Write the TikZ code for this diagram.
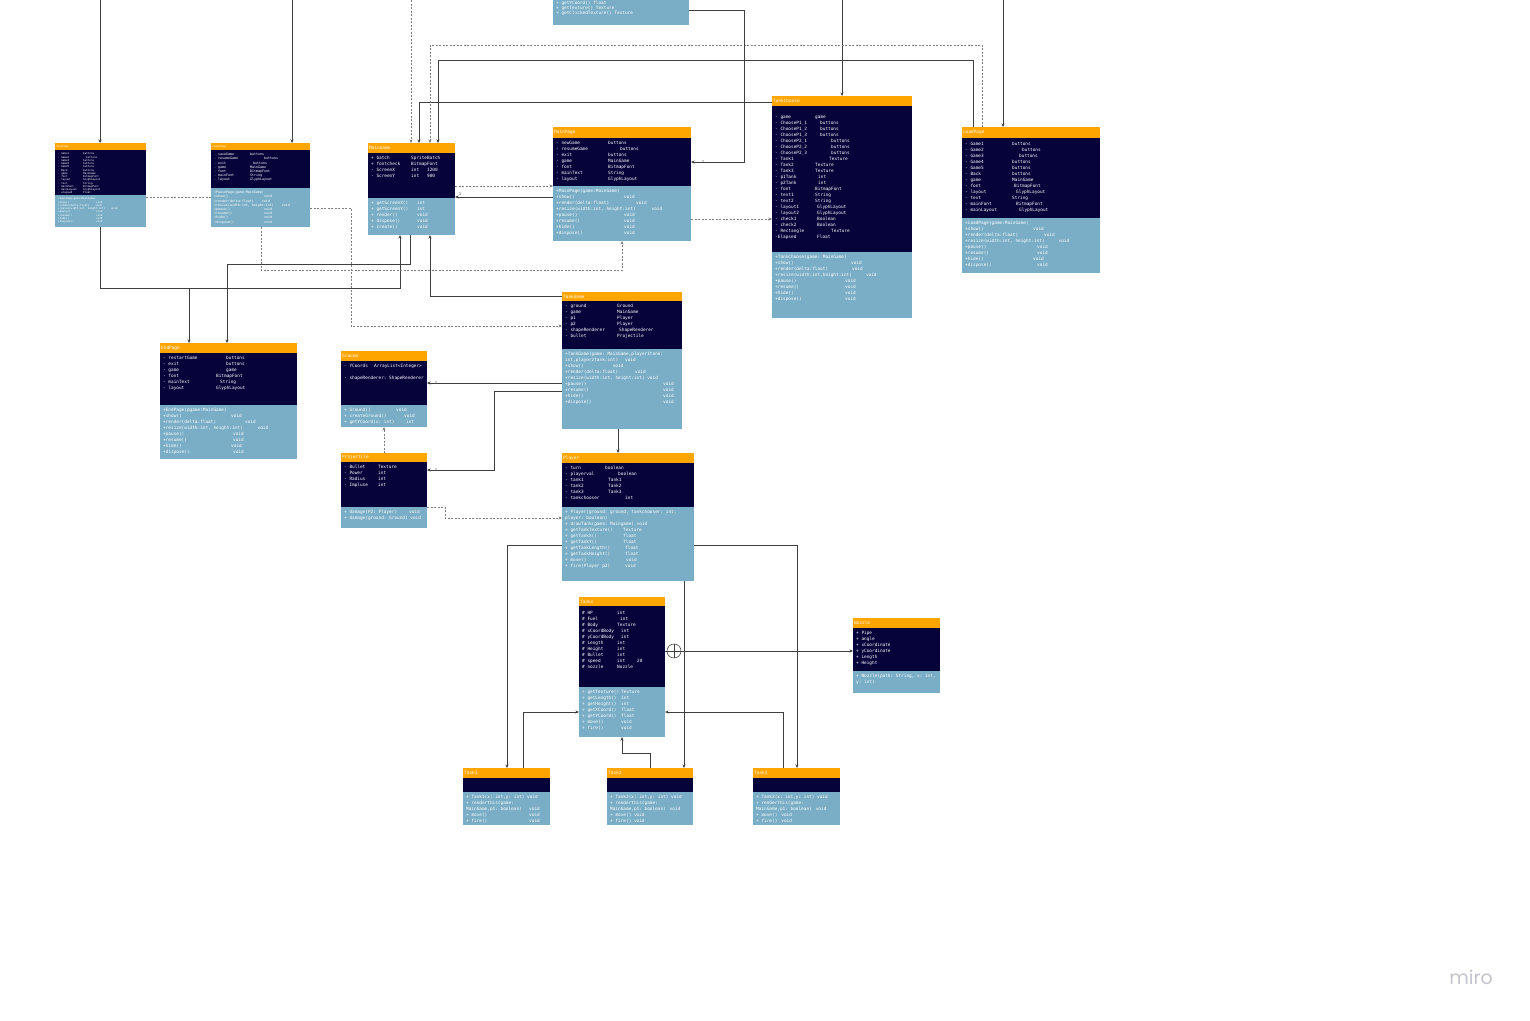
\documentclass[tikz,border=0pt]{standalone}
\usepackage{fontspec}
\setmonofont{DejaVu Sans Mono}
\newfontfamily\logofont{Poppins}
\usetikzlibrary{arrows.meta}

% colours
\definecolor{hdrorange}{HTML}{FFA500}
\definecolor{attrnavy}{HTML}{06033B}
\definecolor{methblue}{HTML}{7AAEC6}
\definecolor{linegray}{HTML}{3F3F3F}
\definecolor{dashgray}{HTML}{7E7E7E}
\definecolor{logogray}{HTML}{C4C4CC}

\newcommand{\umlfont}{\ttfamily\fontsize{4.4}{6}\selectfont}
\newcommand{\pausefont}{\ttfamily\fontsize{3.3}{4.2}\selectfont}
\newcommand{\savefont}{\ttfamily\fontsize{2.6}{3.25}\selectfont}

\newcommand{\cols}[2]{\begin{tabular}{@{}p{#1}@{}l@{}}#2\end{tabular}}
\newcommand{\wide}[1]{\multicolumn{2}{@{}l@{}}{#1}}

% id, x, y, width, header h, attribute h, method h, title
\newcommand{\umlclass}[8]{%
  \fill[hdrorange] (#2,#3) rectangle ++(#4,#5);
  \fill[attrnavy] (#2,{#3+#5}) rectangle ++(#4,#6);
  \fill[methblue] (#2,{#3+#5+#6}) rectangle ++(#4,#7);
  \node[classbox, minimum width=#4, minimum height={#5+#6+#7}] (#1) at (#2,#3) {};
  \node[ttl] (#1-t) at ({#2+1},{#3+#5/2}) {#8};
  \coordinate (#1-a) at ({#2+3},{#3+#5+2.5});
  \coordinate (#1-m) at ({#2+3},{#3+#5+#6+2.5});
}

\tikzset{
  classbox/.style={anchor=north west, inner sep=0pt, outer sep=0pt},
  ttl/.style={anchor=west, inner sep=0pt, text=white, font=\umlfont},
  body/.style={anchor=north west, inner sep=0pt, text=white, font=\umlfont, align=left},
  mult/.style={inner sep=0pt, text=linegray, font=\ttfamily\fontsize{4}{4}\selectfont},
  assoc/.style={draw=linegray, line width=0.55pt, -{Stealth[length=3.5pt,width=3pt]}},
  dep/.style={assoc, draw=dashgray, dash pattern=on 2pt off 1.5pt},
  plainln/.style={draw=linegray, line width=0.55pt},
}

\begin{document}
\begin{tikzpicture}[x=1pt,y=-1pt]
    \path[use as bounding box] (0,0) rectangle (1530,1020);
    \clip (0,0) rectangle (1530,1020);
    \fill[white] (0,0) rectangle (1530,1020);

    % Classes
    \umlclass{button}{553}{-12}{136}{0}{0}{37}{}
    \umlclass{savep}{55}{143}{91}{7}{45}{32}{\savefont SavePage}
    \umlclass{pausep}{211}{143}{99}{7}{38}{39}{\savefont PausePage}
    \umlclass{maingame}{368}{143}{87}{10}{45}{37}{MainGame}
    \umlclass{mainpage}{553}{127}{138}{11}{48}{55}{MainPage}
    \umlclass{tankchoose}{772}{96}{140}{10}{146}{66}{TankChoose}
    \umlclass{loadpage}{962}{127}{138}{11}{80}{55}{LoadPage}
    \umlclass{endpage}{160}{343}{137}{10}{52}{54}{EndPage}
    \umlclass{tankgame}{562}{292}{120}{9}{48}{80}{TankGame}
    \umlclass{ground}{341}{351}{86}{10}{44}{22}{Ground}
    \umlclass{projectile}{341}{453}{86}{9}{45}{21}{Projectile}
    \umlclass{player}{562}{453}{132}{10}{44}{74}{Player}
    \umlclass{tanks}{579}{597}{86}{9}{81}{50}{Tanks}
    \umlclass{nozzle}{853}{618}{87}{10}{43}{22}{Nozzle}
    \umlclass{tank1}{463}{768}{87}{10}{14}{33}{Tank1}
    \umlclass{tank2}{607}{768}{86}{10}{14}{33}{Tank2}
    \umlclass{tank3}{753}{768}{87}{10}{14}{33}{Tank3}

    % Members
    \node[body, font=\ttfamily\fontsize{4.4}{5}\selectfont] (button-mt) at (556,0.7) {+ getYCoord() float\\+ getTexture() Texture\\+ getClickedTexture() Texture};

    \node[body, font=\savefont] (savep-at) at (savep-a) {\cols{25pt}{- Game1 & buttons\\- Game2 & \hspace{3pt}buttons\\- Game3 & buttons\\- Game4 & buttons\\- Game5 & buttons\\- Back & buttons\\- game & MainGame\\- font & BitmapFont\\- layout & GlyphLayout\\- text & String\\- mainFont & BitmapFont\\- mainLayout & GlyphLayout\\- elapsed & Float}};
    \node[body, font=\savefont] (savep-mt) at (savep-m) {\cols{38pt}{\wide{+SavePage(game:MainGame)}\\+show() & void\\\wide{+render(delta:float)\hspace{6pt}void}\\\wide{+resize(width:int, height:int)\hspace{6pt}void}\\+pause() & void\\+resume() & void\\+hide() & void\\+dispose() & void}};

    \node[body, font=\pausefont] (pausep-at) at (pausep-a) {\cols{36pt}{- saveGame & buttons\\- resumeGame & \hspace{14pt}buttons\\- exit & \hspace{3pt}buttons\\- game & MainGame\\- font & BitmapFont\\- mainFont & String\\- layout & GlyphLayout}};
    \node[body, font=\pausefont] (pausep-mt) at (pausep-m) {\cols{50pt}{\wide{+PausePage(game:MainGame)}\\+show() & void\\\wide{+render(delta:float)\hspace{8pt}void}\\\wide{+resize(width:int, height:int)\hspace{8pt}void}\\+pause() & void\\+resume() & void\\+hide() & void\\+dispose() & void}};

    \node[body] (maingame-at) at (maingame-a) {\cols{40pt}{+ batch & SpriteBatch\\+ fontcheck & BitmapFont\\- ScreenX & int\hspace{8pt}1200\\- ScreenY & int\hspace{8pt}900}};
    \node[body] (maingame-mt) at (maingame-m) {\cols{46pt}{+ getScreenX() & int\\+ getScreenY() & int\\+ render() & void\\+ dispose() & void\\+ create() & void}};

    \node[body] (mainpage-at) at (mainpage-a) {\cols{52pt}{- newGame & buttons\\- resumeGame & \hspace{12pt}buttons\\- exit & buttons\\- game & MainGame\\- font & BitmapFont\\- mainText & String\\- layout & GlyphLayout}};
    \node[body] (mainpage-mt) at (mainpage-m) {\cols{68pt}{\wide{+MainPage(game:MainGame)}\\+show() & void\\\wide{+render(delta:float)\hspace{27pt}void}\\\wide{+resize(width:int, height:int)\hspace{16pt}void}\\+pause() & void\\+resume() & void\\+hide() & void\\+dispose() & void}};

    \node[body] (tankchoose-at) at ([yshift=-6pt]tankchoose-a) {\cols{40pt}{- game & game\\- ChooseP1\_1 & \hspace{5pt}buttons\\- ChooseP1\_2 & \hspace{5pt}buttons\\- ChooseP1\_3 & \hspace{5pt}buttons\\- ChooseP2\_1 & \hspace{16pt}buttons\\- ChooseP2\_2 & \hspace{16pt}buttons\\- ChooseP2\_3 & \hspace{16pt}buttons\\- Tank1 & \hspace{14pt}Texture\\- Tank2 & Texture\\- Tank3 & Texture\\- p1Tank & \hspace{3pt}int\\- p2Tank & \hspace{3pt}int\\- font & BitmapFont\\- text1 & String\\- text2 & String\\- layout1 & \hspace{2pt}GlyphLayout\\- layout2 & \hspace{2pt}GlyphLayout\\- check1 & \hspace{2pt}Boolean\\- check2 & \hspace{2pt}Boolean\\- Rectangle & \hspace{16pt}Texture\\-Elapsed & \hspace{2pt}Float}};
    \node[body] (tankchoose-mt) at (tankchoose-m) {\cols{70pt}{\wide{+TankChoose(game: MainGame)}\\+show() & \hspace{6pt}void\\\wide{+render(delta:float)\hspace{24pt}void}\\\wide{+resize(width:int,height:int)\hspace{14pt}void}\\+pause() & void\\+resume() & void\\+hide() & void\\+dispose() & void}};

    \node[body] (loadpage-at) at ([yshift=-1pt]loadpage-a) {\cols{47pt}{- Game1 & buttons\\- Game2 & \hspace{10pt}buttons\\- Game3 & \hspace{7pt}buttons\\- Game4 & buttons\\- Game5 & buttons\\- Back & buttons\\- game & MainGame\\- font & \hspace{2pt}BitmapFont\\- layout & \hspace{4pt}GlyphLayout\\- text & String\\- mainFont & \hspace{4pt}BitmapFont\\- mainLayout & \hspace{7pt}GlyphLayout}};
    \node[body] (loadpage-mt) at (loadpage-m) {\cols{68pt}{\wide{+LoadPage(game:MainGame)}\\+show() & void\\\wide{+render(delta:float)\hspace{26pt}void}\\\wide{+resize(width:int, height:int)\hspace{14pt}void}\\+pause() & \hspace{4pt}void\\+resume() & \hspace{4pt}void\\+hide() & void\\+dispose() & \hspace{4pt}void}};

    \node[body] (endpage-at) at (endpage-a) {\cols{53pt}{- restartGame & \hspace{10pt}buttons\\- exit & \hspace{10pt}buttons\\- game & \hspace{10pt}game\\- font & BitmapFont\\- mainText & \hspace{4pt}String\\- layout & GlyphLayout}};
    \node[body] (endpage-mt) at (endpage-m) {\cols{68pt}{\wide{+EndPage(pgame:MainGame)}\\+show() & void\\\wide{+render(delta:float)\hspace{29pt}void}\\\wide{+resize(width:int, height:int)\hspace{15pt}void}\\+pause() & \hspace{2pt}void\\+resume() & \hspace{2pt}void\\+hide() & void\\+dispose() & \hspace{2pt}void}};

    \node[body] (tankgame-at) at (tankgame-a) {\cols{52pt}{- ground & Ground\\- game & MainGame\\- p1 & Player\\- p2 & Player\\- shapeRenderer & \hspace{2pt}ShapeRenderer\\- bullet & Projectile}};
    \node[body] (tankgame-mt) at (tankgame-m) {\cols{98pt}{\wide{+TankGame(game: MainGame,player1tank:}\\\wide{int,player2tank:int)\hspace{7pt}void}\\\wide{+show()\hspace{29pt}void}\\\wide{+render(delta:float)\hspace{17pt}void}\\\wide{+resize(width:int, height:int) void}\\+pause() & void\\+resume() & void\\+hide() & void\\+dispose() & void}};

    \node[body] (ground-at) at (ground-a) {\cols{30pt}{- YCoords & ArrayList<Integer>\\ & \\\wide{- shapeRenderer: ShapeRenderer}}};
    \node[body] (ground-mt) at (ground-m) {\cols{52pt}{+ Ground() & void\\+ createGround() & \hspace{8pt}void\\+ getYCoord(x: int) & \hspace{10pt}int}};

    \node[body] (projectile-at) at (projectile-a) {\cols{34pt}{- Bullet & Texture\\- Power & int\\- Radius & int\\- Impluse & int}};
    \node[body] (projectile-mt) at (projectile-m) {\cols{34pt}{\wide{+ damage(P2: Player)\hspace{12pt}void}\\\wide{+ damage(ground: Ground) void}}};

    \node[body] (player-at) at (player-a) {\cols{40pt}{- turn & boolean\\- playerval & \hspace{13pt}boolean\\- tank1 & \hspace{3pt}Tank1\\- tank2 & \hspace{3pt}Tank2\\- tank3 & \hspace{3pt}Tank3\\- tankchooser & \hspace{20pt}int}};
    \node[body] (player-mt) at (player-m) {\cols{58pt}{\wide{+ Player(ground: ground, tankchooser: int,}\\\wide{player: boolean)}\\\wide{+ drawTank(game: Maingame) void}\\+ getTankTexture() & Texture\\+ getTankX() & float\\+ getTankY() & float\\+ getTankLength() & \hspace{2pt}float\\+ getTankHeight() & \hspace{2pt}float\\+ move() & \hspace{3pt}void\\+ fire(Player p2) & \hspace{2pt}void}};

    \node[body] (tanks-at) at ([yshift=-2pt]tanks-a) {\cols{35pt}{\# HP & int\\\# Fuel & \hspace{3pt}int\\\# Body & Texture\\\# xCoordBody & \hspace{4pt}int\\\# yCoordBody & \hspace{4pt}int\\\# Length & int\\\# Height & int\\\# Bullet & int\\\# speed & int\hspace{12pt}20\\\# nozzle & Nozzle}};
    \node[body] (tanks-mt) at (tanks-m) {\cols{39pt}{+ getTexture() & Texture\\+ getLength() & int\\+ getHeight() & int\\+ getXCoord() & float\\+ getYCoord() & float\\+ move() & void\\+ fire() & void}};

    \node[body] (nozzle-at) at (nozzle-a) {+ Pipe\\+ angle\\+ xCoordinate\\+ yCoordinate\\+ Length\\+ Height};
    \node[body] (nozzle-mt) at (nozzle-m) {+ Nozzle(path: String, x: int,\\y: int)};

    \node[body] (tank1-mt) at (tank1-m) {\cols{63pt}{\wide{+ Tank1(x: int,y: int) void}\\\wide{+ renderthis(game:}\\MainGame,p1: boolean) & void\\+ move() & void\\+ fire() & void}};
    \node[body] (tank2-mt) at (tank2-m) {+ Tank2(x: int,y: int) void\\+ renderthis(game:\\MainGame,p1: boolean)\hspace{4pt}void\\+ move() void\\+ fire() void};
    \node[body] (tank3-mt) at (tank3-m) {+ Tank3(x: int,y: int) void\\+ renderthis(game:\\MainGame,p1: boolean)\hspace{4pt}void\\+ move()\hspace{4pt}void\\+ fire()\hspace{4pt}void};

    % Incoming lines from the top edge
    \coordinate (topsave) at (100,0);
    \coordinate (toppause) at (292,0);
    \coordinate (topmain) at (411,0);
    \coordinate (topchoose) at (842,0);
    \coordinate (topload) at (1003,0);
    \draw[assoc] (topsave) -- (topsave |- savep.north);
    \draw[assoc] (toppause) -- (toppause |- pausep.north);
    \draw[dep] (topmain) -- (topmain |- maingame.north);
    \draw[assoc] (topchoose) -- (topchoose |- tankchoose.north);
    \draw[assoc] (topload) -- (topload |- loadpage.north);

    % Connectors
    \draw[assoc] ([yshift=-6pt]tankchoose.north west) -| ([xshift=51pt]maingame.north west);
    \draw[dep] ([xshift=20pt]loadpage.north west) -- ++(0,-82) -| ([xshift=62pt]maingame.north west);
    \draw[assoc] ([xshift=11pt]loadpage.north west) -- ++(0,-67) -| ([xshift=70pt]maingame.north west);
    \draw[assoc] ([yshift=-22pt]button.north east) -- ++(55,0) |- ([yshift=-35pt]mainpage.north east);
    \draw[dep] ([yshift=-43pt]maingame.north east) -- ([yshift=-59pt]mainpage.north west);
    \draw[assoc] ([yshift=-70pt]mainpage.north west) -- ([yshift=-54pt]maingame.north east);
    \draw[dep] ([yshift=-92pt]mainpage.north east) -- ([yshift=-123pt]tankchoose.north west);
    \draw[dep, -] ([yshift=-54pt]savep.north east) -- ([yshift=-54pt]pausep.north west);
    \draw[assoc] ([xshift=45pt]savep.south west) -- ++(0,61) -| ([xshift=32pt]maingame.south west);
    \coordinate (endjoin) at (189,288);
    \draw[assoc] (endjoin) -- (endjoin |- endpage.north);
    \draw[assoc] ([xshift=42pt]maingame.south west) -- ++(0,29) -| ([xshift=67pt]endpage.north west);
    \draw[assoc] ([yshift=-4pt]tankgame.north west) -| ([xshift=62pt]maingame.south west);
    \draw[dep] ([xshift=50pt]pausep.south west) -- ++(0,43) -| ([xshift=69pt]mainpage.south west);
    \draw[dep] ([yshift=-65pt]pausep.north east) -- ++(41,0) |- ([yshift=-34pt]tankgame.north west);
    \draw[assoc] ([yshift=-91pt]tankgame.north west) -- ([yshift=-32pt]ground.north east);
    \draw[assoc] ([yshift=-99pt]tankgame.north west) -- ++(-68,0) |- ([yshift=-17pt]projectile.north east);
    \draw[assoc] ([xshift=56pt]tankgame.south west) -- ([xshift=56pt]player.north west);
    \draw[dep] ([xshift=43pt]projectile.north west) -- ([xshift=43pt]ground.south west);
    \draw[dep] ([yshift=-54pt]projectile.north east) -- ++(18,0) |- ([yshift=-65pt]player.north west);
    \draw[assoc] ([yshift=-92pt]player.north west) -| ([xshift=44pt]tank1.north west);
    \draw[assoc] ([xshift=122pt]player.south west) -- ([xshift=77pt]tank2.north west);
    \draw[assoc] ([yshift=-92pt]player.north east) -| ([xshift=44pt]tank3.north west);

    % Nested class mark
    \node[circle, draw=linegray, line width=0.55pt, minimum size=14pt, inner sep=0pt] (nestmark) at ([xshift=9pt,yshift=-54pt]tanks.north east) {};
    \draw[plainln] (nestmark.north) -- (nestmark.south);
    \draw[plainln] (nestmark.west) -- (nestmark.east);
    \draw[plainln] ([yshift=-54pt]tanks.north east) -- (nestmark.west);
    \draw[assoc] (nestmark.east) -- ([yshift=-33pt]nozzle.north west);

    \draw[assoc] ([xshift=60pt]tank1.north west) |- ([yshift=-115pt]tanks.north west);
    \draw[assoc] ([xshift=43pt]tank2.north west) -- ++(0,-15) -| ([xshift=43pt]tanks.south west);
    \draw[assoc] ([xshift=30pt]tank3.north west) |- ([yshift=-115pt]tanks.north east);

    % Multiplicities
    \node[mult] (m1) at ([xshift=5pt,yshift=-51pt]maingame.north east) {1};
    \node[mult] (m2) at ([xshift=12pt,yshift=-35pt]mainpage.north east) {1};
    \node[mult] (m3) at ([xshift=9pt,yshift=-32pt]ground.north east) {1};
    \node[mult] (m4) at ([xshift=9pt,yshift=-17pt]projectile.north east) {1};

    % Logo
    \node[text=logogray, font=\logofont\fontsize{19}{19}\selectfont] (logo) at (1471,977) {miro};
\end{tikzpicture}
\end{document}
